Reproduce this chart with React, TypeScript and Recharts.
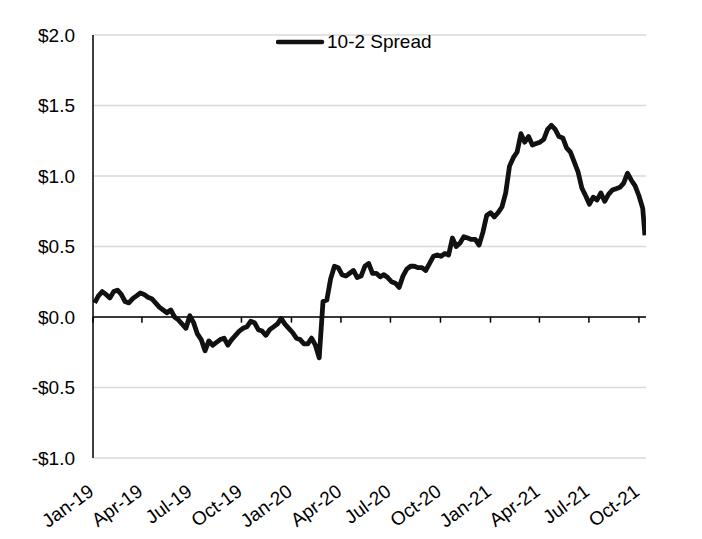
import React from "react";
import { LineChart, Line, XAxis, YAxis, CartesianGrid, ReferenceLine } from "recharts";

const dates = [
  "2019-01-04","2019-01-11","2019-01-18","2019-01-25","2019-02-01","2019-02-08","2019-02-15","2019-02-22",
  "2019-03-01","2019-03-08","2019-03-15","2019-03-22","2019-03-29","2019-04-05","2019-04-12","2019-04-19","2019-04-26",
  "2019-05-03","2019-05-10","2019-05-17","2019-05-24","2019-05-31","2019-06-07","2019-06-14","2019-06-21","2019-06-28",
  "2019-07-05","2019-07-12","2019-07-19","2019-07-26","2019-08-02","2019-08-09","2019-08-16","2019-08-23","2019-08-30",
  "2019-09-06","2019-09-13","2019-09-20","2019-09-27","2019-10-04","2019-10-11","2019-10-18","2019-10-25",
  "2019-11-01","2019-11-08","2019-11-15","2019-11-22","2019-11-29","2019-12-06","2019-12-13","2019-12-20","2019-12-27",
  "2020-01-03","2020-01-10","2020-01-17","2020-01-24","2020-01-31","2020-02-07","2020-02-14","2020-02-21","2020-02-28",
  "2020-03-06","2020-03-13","2020-03-20","2020-03-27","2020-04-03","2020-04-10","2020-04-17","2020-04-24",
  "2020-05-01","2020-05-08","2020-05-15","2020-05-22","2020-05-29","2020-06-05","2020-06-12","2020-06-19","2020-06-26",
  "2020-07-03","2020-07-10","2020-07-17","2020-07-24","2020-07-31","2020-08-07","2020-08-14","2020-08-21","2020-08-28",
  "2020-09-04","2020-09-11","2020-09-18","2020-09-25","2020-10-02","2020-10-09","2020-10-16","2020-10-23","2020-10-30",
  "2020-11-06","2020-11-13","2020-11-20","2020-11-27","2020-12-04","2020-12-11","2020-12-18","2020-12-25",
  "2021-01-01","2021-01-08","2021-01-15","2021-01-22","2021-01-29","2021-02-05","2021-02-12","2021-02-19","2021-02-26",
  "2021-03-05","2021-03-12","2021-03-19","2021-03-26","2021-04-02","2021-04-09","2021-04-16","2021-04-23","2021-04-30",
  "2021-05-07","2021-05-14","2021-05-21","2021-05-28","2021-06-04","2021-06-11","2021-06-18","2021-06-25",
  "2021-07-02","2021-07-09","2021-07-16","2021-07-23","2021-07-30","2021-08-06","2021-08-13","2021-08-20","2021-08-27",
  "2021-09-03","2021-09-10","2021-09-17","2021-09-24","2021-10-01","2021-10-08","2021-10-12",
];

const spread = [
  0.10, 0.15, 0.18, 0.16, 0.135, 0.18, 0.19, 0.16,
  0.11, 0.10, 0.13, 0.15, 0.17, 0.16, 0.14, 0.13, 0.10,
  0.07, 0.05, 0.03, 0.05, 0.00, -0.02, -0.05, -0.08, 0.01,
  -0.04, -0.12, -0.16, -0.24, -0.17, -0.20, -0.18, -0.16, -0.15,
  -0.20, -0.16, -0.13, -0.10, -0.08, -0.07, -0.03, -0.04,
  -0.09, -0.10, -0.13, -0.09, -0.07, -0.05, -0.01, -0.05, -0.08,
  -0.11, -0.15, -0.16, -0.19, -0.19, -0.15, -0.20, -0.29, 0.11,
  0.12, 0.27, 0.36, 0.35, 0.30, 0.29, 0.31, 0.33,
  0.28, 0.29, 0.36, 0.38, 0.31, 0.31, 0.285, 0.30, 0.28,
  0.25, 0.24, 0.21, 0.29, 0.34, 0.36, 0.36, 0.35, 0.35,
  0.33, 0.38, 0.43, 0.44, 0.43, 0.45, 0.44, 0.56, 0.50,
  0.525, 0.57, 0.56, 0.55, 0.55, 0.51, 0.60, 0.72,
  0.74, 0.71, 0.74, 0.78, 0.88, 1.07, 1.13, 1.17, 1.30,
  1.24, 1.28, 1.22, 1.23, 1.24, 1.26, 1.33, 1.36, 1.33,
  1.28, 1.27, 1.20, 1.17, 1.10, 1.03, 0.915, 0.86,
  0.80, 0.85, 0.83, 0.88, 0.82, 0.87, 0.90, 0.91, 0.92,
  0.95, 1.02, 0.97, 0.93, 0.86, 0.77, 0.58,
];

const tickDates = [
  "2019-01-01","2019-04-01","2019-07-01","2019-10-01",
  "2020-01-01","2020-04-01","2020-07-01","2020-10-01",
  "2021-01-01","2021-04-01","2021-07-01","2021-10-01",
];
const tickLabels = [
  "Jan-19","Apr-19","Jul-19","Oct-19","Jan-20","Apr-20","Jul-20","Oct-20","Jan-21","Apr-21","Jul-21","Oct-21",
];
const yTicks = [-1, -0.5, 0, 0.5, 1, 1.5, 2];
const seriesName = "10-2 Spread";
const xStart = "2019-01-01";
const xEnd = "2021-10-14";

const data = dates.map((d, i) => ({ t: Date.parse(d), v: spread[i] }));
const tickTimes = tickDates.map((d) => Date.parse(d));
const labelFor = (t: number) => tickLabels[tickTimes.indexOf(t)] ?? "";

const FONT = "'Liberation Sans', Arial, sans-serif";

const XTick = (props: any) => {
  const { x, y, payload } = props;
  const ax = x + 2;
  const ay = y + 28;
  return (
    <text
      x={ax}
      y={ay}
      textAnchor="end"
      transform={`rotate(-36, ${ax}, ${ay})`}
      fontSize={19}
      fontFamily={FONT}
      fill="#000"
    >
      {labelFor(payload.value)}
    </text>
  );
};

const yFmt = (v: number) => (v < 0 ? `-$${Math.abs(v).toFixed(1)}` : `$${v.toFixed(1)}`);

export default function App() {
  return (
    <div style={{ position: "relative", width: 694, height: 531, background: "#fff" }}>
      <LineChart width={694} height={531} data={data} margin={{ top: 27, right: 56, bottom: 21, left: 0 }}>
        <CartesianGrid vertical={false} stroke="#d9d9d9" strokeWidth={1.5} />
        <XAxis
          dataKey="t"
          type="number"
          domain={[Date.parse(xStart), Date.parse(xEnd)]}
          ticks={tickTimes}
          tick={<XTick />}
          axisLine={false}
          tickLine={false}
          height={60}
          interval={0}
          allowDataOverflow
        />
        <YAxis
          domain={[-1, 2]}
          ticks={yTicks}
          tickFormatter={yFmt}
          width={85}
          axisLine={{ stroke: "#000", strokeWidth: 1.5 }}
          tickLine={false}
          tickMargin={12}
          tick={{ fill: "#000", fontSize: 19, fontFamily: FONT }}
          interval={0}
        />
        <ReferenceLine y={0} stroke="#000" strokeWidth={1.5} />
        {tickTimes.map((t) => (
          <ReferenceLine
            key={t}
            segment={[{ x: t, y: 0 }, { x: t, y: -0.04 }]}
            stroke="#000"
            strokeWidth={1.5}
          />
        ))}
        <Line
          type="linear"
          dataKey="v"
          name={seriesName}
          stroke="#111"
          strokeWidth={4.8}
          strokeLinejoin="round"
          dot={false}
          isAnimationActive={false}
        />
      </LineChart>
      <div
        style={{
          position: "absolute",
          top: 24,
          left: 268,
          display: "flex",
          alignItems: "center",
          fontFamily: FONT,
          fontSize: 19,
          color: "#000",
          pointerEvents: "none",
        }}
      >
        <svg width={51} height={10} style={{ display: "block" }}>
          <line x1={2} y1={5} x2={46} y2={5} stroke="#111" strokeWidth={4.5} strokeLinecap="round" />
        </svg>
        <span style={{ lineHeight: "20px" }}>{seriesName}</span>
      </div>
    </div>
  );
}
